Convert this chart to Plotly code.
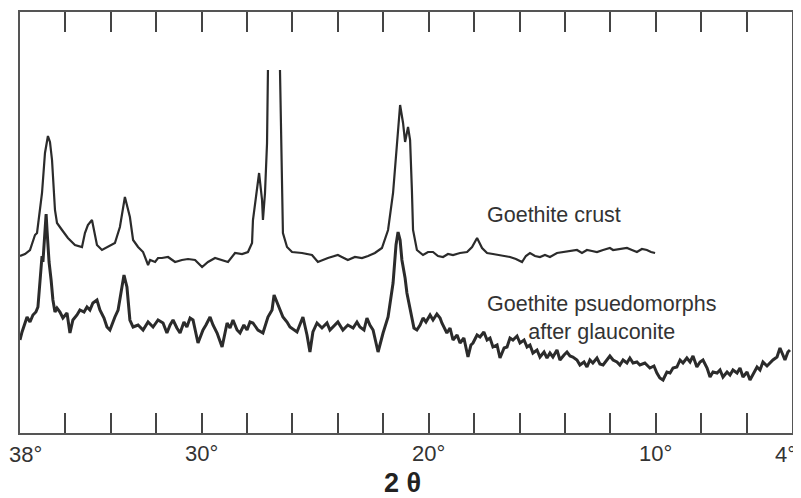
import plotly.graph_objects as go

# ---- Data (2-theta in degrees, intensity in arbitrary units) ----
crust_2theta = [38.00, 37.78, 37.56, 37.34, 37.25, 37.03, 36.90, 36.77, 36.68, 36.59,
                36.46, 36.37, 36.15, 35.89, 35.58, 35.27, 35.14, 35.01, 34.83, 34.70,
                34.61, 34.39, 34.12, 33.82, 33.60, 33.38, 33.16, 33.02, 32.80, 32.58,
                32.36, 32.27, 32.05, 31.92, 31.75, 31.48, 31.17, 30.87, 30.60, 30.29,
                29.98, 29.72, 29.41, 29.10, 28.84, 28.53, 28.22, 27.96, 27.78, 27.74,
                27.56, 27.47, 27.34, 27.30, 27.21, 27.12, 27.08, None, 26.55, 26.46,
                26.42, 26.24, 26.02, 25.58, 25.14, 24.88, 24.44, 24.00, 23.56, 23.25,
                22.94, 22.67, 22.37, 22.06, 21.79, 21.57, 21.40, 21.26, 21.13, 21.04,
                20.91, 20.82, 20.74, 20.69, 20.52, 20.25, 20.03, 19.81, 19.59, 19.37,
                19.15, 18.93, 18.62, 18.31, 18.09, 17.87, 17.65, 17.43, 17.17, 16.86,
                16.64, 16.42, 16.16, 15.89, 15.72, 15.54, 15.32, 15.10, 14.88, 14.66,
                14.35, 14.09, 13.78, 13.47, 13.25, 13.03, 12.81, 12.59, 12.32, 12.02,
                11.88, 11.58, 11.27, 11.05, 10.83, 10.61, 10.39, 10.21, 10.03]
crust_intensity = [177, 179, 183, 198, 200, 240, 280, 297, 291, 273,
                   223, 210, 203, 195, 188, 186, 200, 208, 213, 196,
                   188, 183, 186, 190, 206, 236, 216, 193, 186, 181,
                   168, 173, 171, 175, 175, 176, 171, 173, 174, 173,
                   166, 171, 175, 173, 171, 180, 179, 181, 190, 213,
                   246, 260, 233, 213, 240, 290, 363, None, 363, 240,
                   200, 186, 181, 180, 178, 171, 175, 178, 173, 176,
                   175, 177, 180, 185, 203, 240, 290, 328, 310, 291,
                   306, 293, 243, 203, 183, 178, 181, 181, 177, 176,
                   179, 178, 180, 181, 186, 195, 185, 180, 179, 178,
                   177, 176, 174, 171, 177, 180, 177, 176, 178, 176,
                   180, 181, 182, 183, 180, 183, 182, 181, 183, 185,
                   183, 184, 185, 183, 181, 184, 183, 181, 180]

pseudo_2theta = [38.00, 37.91, 37.69, 37.56, 37.43, 37.30, 37.21, 37.12, 37.03, 36.99,
                 36.90, 36.85, 36.81, 36.72, 36.63, 36.55, 36.46, 36.37, 36.24, 36.11,
                 35.93, 35.80, 35.67, 35.49, 35.36, 35.18, 35.05, 34.92, 34.79, 34.61,
                 34.48, 34.30, 34.17, 34.04, 33.82, 33.68, 33.51, 33.42, 33.29, 33.16,
                 33.02, 32.80, 32.58, 32.36, 32.14, 31.92, 31.70, 31.53, 31.39, 31.26,
                 31.09, 30.95, 30.78, 30.65, 30.51, 30.38, 30.16, 29.94, 29.81, 29.63,
                 29.50, 29.32, 29.10, 28.88, 28.75, 28.62, 28.44, 28.31, 28.14, 28.00,
                 27.87, 27.74, 27.52, 27.30, 27.08, 26.90, 26.81, 26.68, 26.55, 26.42,
                 26.24, 26.11, 25.80, 25.67, 25.54, 25.36, 25.23, 25.10, 24.92, 24.70,
                 24.48, 24.35, 24.22, 24.00, 23.78, 23.56, 23.33, 23.16, 23.03, 22.85,
                 22.72, 22.59, 22.45, 22.23, 22.01, 21.79, 21.57, 21.44, 21.35, 21.26,
                 21.18, 21.04, 20.96, 20.82, 20.74, 20.65, 20.52, 20.38, 20.25, 20.12,
                 19.94, 19.81, 19.64, 19.50, 19.42, 19.20, 19.06, 18.93, 18.75, 18.62,
                 18.45, 18.27, 18.14, 18.05, 17.87, 17.74, 17.57, 17.43, 17.30, 17.17,
                 16.99, 16.86, 16.68, 16.55, 16.42, 16.29, 16.11, 15.98, 15.80, 15.67,
                 15.54, 15.41, 15.23, 15.10, 14.92, 14.79, 14.66, 14.53, 14.35, 14.22,
                 14.04, 13.91, 13.78, 13.65, 13.47, 13.34, 13.16, 13.03, 12.90, 12.77,
                 12.59, 12.46, 12.32, 12.15, 12.02, 11.88, 11.71, 11.58, 11.44, 11.27,
                 11.14, 11.00, 10.83, 10.70, 10.48, 10.26, 10.08, 9.95, 9.82, 9.68,
                 9.51, 9.37, 9.24, 9.07, 8.93, 8.80, 8.63, 8.49, 8.36, 8.19,
                 8.05, 7.92, 7.74, 7.61, 7.48, 7.30, 7.17, 7.04, 6.86, 6.73,
                 6.60, 6.42, 6.29, 6.16, 5.98, 5.85, 5.72, 5.54, 5.41, 5.28,
                 5.10, 4.97, 4.84, 4.66, 4.53, 4.40, 4.31, 4.18, 4.09]
pseudo_intensity = [93, 101, 116, 111, 118, 121, 126, 153, 177, 171,
                    203, 219, 203, 171, 153, 133, 121, 125, 121, 115,
                    120, 100, 113, 118, 123, 121, 126, 123, 130, 133,
                    123, 115, 106, 103, 116, 123, 146, 158, 146, 113,
                    106, 108, 103, 111, 106, 113, 110, 100, 108, 113,
                    105, 100, 111, 106, 115, 113, 90, 103, 108, 116,
                    108, 100, 86, 110, 105, 113, 103, 100, 108, 103,
                    111, 110, 103, 100, 116, 123, 138, 130, 123, 116,
                    111, 106, 101, 108, 116, 98, 81, 101, 110, 105,
                    110, 103, 106, 111, 103, 108, 105, 111, 106, 103,
                    115, 108, 103, 81, 100, 116, 150, 188, 201, 193,
                    173, 155, 140, 123, 113, 105, 103, 108, 115, 111,
                    118, 113, 119, 115, 110, 100, 105, 93, 98, 90,
                    95, 76, 88, 90, 98, 96, 101, 93, 95, 86,
                    88, 75, 85, 86, 95, 93, 97, 90, 93, 86,
                    88, 80, 83, 76, 81, 75, 80, 76, 83, 73,
                    78, 81, 77, 76, 73, 68, 71, 66, 73, 70,
                    75, 69, 68, 73, 77, 73, 71, 68, 73, 70,
                    75, 70, 71, 68, 70, 65, 67, 60, 55, 53,
                    61, 60, 65, 66, 73, 70, 75, 71, 77, 66,
                    71, 73, 65, 56, 61, 60, 63, 56, 61, 58,
                    63, 60, 65, 56, 61, 53, 59, 66, 63, 71,
                    67, 70, 73, 76, 85, 78, 73, 81, 83]

tick_positions = [38, 36, 34, 32, 30, 28, 26, 24, 22, 20, 18, 16, 14, 12, 10, 8, 6, 4]
tick_labels = ["", "", "", "", "30°", "", "", "", "", "20°", "", "", "", "", "10°", "", "", ""]
# end labels sit at the frame edges, drawn as annotations so they stay inside the page
edge_label_values = [38, 4]
edge_label_texts = ["38°", "4°"]

assert len(crust_2theta) == len(crust_intensity), (len(crust_2theta), len(crust_intensity))
assert len(pseudo_2theta) == len(pseudo_intensity), (len(pseudo_2theta), len(pseudo_intensity))

INK = "#2b2b2b"
FONT = "Liberation Sans, Arial, sans-serif"

fig = go.Figure()
fig.add_trace(go.Scatter(x=crust_2theta, y=crust_intensity, mode="lines",
                         line=dict(color=INK, width=2.2), connectgaps=False,
                         name="Goethite crust", showlegend=False))
fig.add_trace(go.Scatter(x=pseudo_2theta, y=pseudo_intensity, mode="lines",
                         line=dict(color=INK, width=3),
                         name="Goethite psuedomorphs after glauconite", showlegend=False))

fig.add_annotation(x=0.692, y=0.518, xref="paper", yref="paper",
                   text="Goethite crust", showarrow=False,
                   xanchor="center", yanchor="middle",
                   font=dict(family=FONT, size=21.5, color="#333333"))
fig.add_annotation(x=0.753, y=0.273, xref="paper", yref="paper",
                   text="Goethite psuedomorphs<br>after glauconite", showarrow=False,
                   xanchor="center", yanchor="middle", align="center",
                   font=dict(family=FONT, size=21.5, color="#333333"))
fig.add_annotation(x=0.496, y=-0.119, xref="paper", yref="paper",
                   text="<b>2 θ</b>", showarrow=False,
                   xanchor="center", yanchor="middle",
                   font=dict(family=FONT, size=27, color="#222222"))

for val, txt, anchor, shift in zip(edge_label_values, edge_label_texts,
                                   ["left", "right"], [-13, 6]):
    fig.add_annotation(x=val, xref="x", y=-0.05, yref="paper", text=txt,
                       showarrow=False, xanchor=anchor, yanchor="middle",
                       xshift=shift, font=dict(family=FONT, size=22, color="#333333"))

fig.update_xaxes(range=[38, 4], tickmode="array", tickvals=tick_positions,
                 ticktext=tick_labels, ticks="inside", ticklen=20, tickwidth=1.5,
                 tickcolor="#444444", showline=True, linecolor="#555555", linewidth=1.5,
                 mirror="ticks", showgrid=False, zeroline=False,
                 tickfont=dict(family=FONT, size=22, color="#333333"),
                 ticklabelstandoff=0, automargin=False)
fig.update_yaxes(range=[0, 421], showticklabels=False, ticks="", showline=True,
                 linecolor="#555555", linewidth=1.5, mirror=True, showgrid=False,
                 zeroline=False, automargin=False)

# the page body adds an 8px margin, so the figure is sized to fit the window
fig.update_layout(width=793, height=490, margin=dict(l=12, r=9, t=4, b=65),
                  plot_bgcolor="white", paper_bgcolor="white")

fig.write_html("out.html")
